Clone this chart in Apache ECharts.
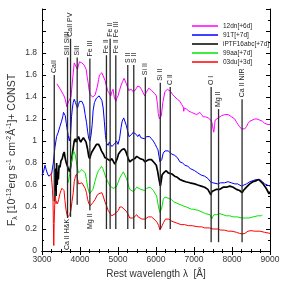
<!DOCTYPE html>
<html><head><meta charset="utf-8">
<script src="https://cdn.jsdelivr.net/npm/echarts@6/dist/echarts.min.js"></script>
<style>html,body{margin:0;padding:0;background:#fff}#c{width:299px;height:284px}</style>
</head><body><div id="c"></div>
<script>
const FONT = 'Liberation Sans, Arial, Helvetica, sans-serif';

const seriesNames = ['12dn[+6d]', '91T[+7d]', 'iPTF16abc[+7d]', '99aa[+7d]', '03du[+3d]'];
const seriesColors = ['#ff00ff', '#0000ff', '#000000', '#00e600', '#ff0000'];

const wave12dn = [3390,3430,3462,3500,3525,3567,3612,3656,3680,3699,3730,3761,3790,3814,3848,3875,3900,3934,3960,3987,4020,4050,4110,4163,4190,4215,4240,4268,4300,4339,4399,4430,4460,4490,4512,4545,4575,4600,4620,4660,4696,4720,4740,4775,4811,4840,4872,4900,4942,4970,5002,5040,5074,5120,5160,5186,5220,5250,5283,5320,5353,5390,5423,5450,5485,5520,5546,5580,5616,5660,5703,5740,5773,5810,5834,5880,5922,5970,6009,6040,6060,6090,6115,6140,6180,6236,6300,6330,6385,6440,6499,6560,6630,6680,6717,6730,6745,6805,6870,6937,7000,7068,7110,7155,7200,7241,7300,7373,7444,7470,7490,7520,7540,7557,7600,7635,7724,7811,7898,7950,7987,8073,8120,8160,8200,8250,8300,8336,8380,8423,8470,8512,8598,8660,8730,8800,8861,8910,8948,9000];
const flux12dn = [1.52,1.50,1.48,1.46,1.45,1.42,1.38,1.31,1.34,1.36,1.38,1.40,1.50,1.59,1.71,1.70,1.70,1.65,1.69,1.72,1.71,1.71,1.69,1.65,1.58,1.53,1.46,1.42,1.41,1.40,1.42,1.46,1.50,1.56,1.60,1.61,1.62,1.60,1.59,1.55,1.50,1.47,1.45,1.43,1.41,1.45,1.47,1.40,1.36,1.39,1.41,1.46,1.50,1.54,1.57,1.56,1.52,1.49,1.46,1.46,1.47,1.45,1.44,1.46,1.48,1.50,1.51,1.49,1.47,1.44,1.41,1.44,1.45,1.48,1.48,1.46,1.45,1.43,1.41,1.33,1.25,1.20,1.19,1.23,1.35,1.45,1.47,1.46,1.45,1.42,1.40,1.38,1.36,1.33,1.31,1.27,1.30,1.29,1.27,1.26,1.25,1.24,1.25,1.26,1.24,1.22,1.22,1.21,1.19,1.17,1.13,1.08,1.14,1.19,1.20,1.21,1.23,1.24,1.24,1.23,1.22,1.20,1.17,1.15,1.13,1.11,1.11,1.11,1.13,1.16,1.18,1.19,1.20,1.20,1.19,1.18,1.16,1.15,1.15,1.15];

const wave91T = [3000,3040,3079,3110,3147,3180,3210,3252,3297,3340,3384,3428,3470,3515,3545,3567,3590,3612,3640,3656,3690,3720,3750,3777,3800,3822,3848,3880,3910,3934,3960,3987,4020,4050,4080,4100,4136,4171,4200,4230,4260,4290,4320,4346,4380,4433,4470,4504,4540,4575,4610,4640,4670,4700,4740,4770,4800,4840,4880,4920,4960,5000,5040,5080,5110,5150,5186,5220,5260,5290,5320,5360,5400,5440,5480,5520,5560,5600,5650,5700,5750,5790,5834,5880,5930,5980,6020,6052,6080,6105,6123,6150,6190,6236,6270,6320,6360,6420,6490,6560,6630,6700,6760,6840,6900,7016,7100,7190,7280,7365,7430,7496,7548,7627,7700,7800,7898,7980,8073,8150,8250,8300,8380,8470,8555,8640,8730,8800,8861,8930,9000];
const flux91T = [0.69,0.72,0.78,0.74,0.70,0.68,0.67,0.70,0.80,0.94,1.04,1.08,1.13,1.18,1.22,1.26,1.25,1.23,1.16,1.12,1.05,1.00,1.05,1.22,1.30,1.35,1.38,1.35,1.32,1.30,1.33,1.36,1.37,1.36,1.35,1.32,1.24,1.17,1.09,1.02,1.00,1.05,1.15,1.28,1.35,1.39,1.40,1.41,1.40,1.37,1.30,1.18,1.05,0.98,0.96,0.99,0.97,0.95,0.94,0.98,1.00,0.97,1.02,1.12,1.18,1.21,1.20,1.14,1.08,1.04,1.03,1.06,1.08,1.09,1.06,1.04,1.06,1.03,1.04,1.02,1.04,1.05,1.04,1.02,1.00,0.97,0.94,0.92,0.86,0.81,0.80,0.83,0.89,0.91,0.92,0.91,0.90,0.88,0.87,0.85,0.81,0.80,0.78,0.77,0.75,0.73,0.71,0.69,0.68,0.66,0.63,0.62,0.61,0.61,0.62,0.62,0.63,0.62,0.61,0.61,0.59,0.59,0.61,0.63,0.64,0.65,0.65,0.63,0.61,0.60,0.59];

const wavePTF = [3340,3355,3370,3385,3400,3415,3430,3450,3472,3500,3533,3560,3585,3612,3640,3670,3700,3730,3760,3790,3814,3848,3874,3900,3930,3960,3990,4020,4050,4090,4127,4160,4197,4230,4255,4280,4312,4346,4400,4433,4486,4520,4565,4617,4653,4706,4740,4793,4830,4870,4916,4950,4980,5011,5050,5100,5134,5160,5200,5231,5270,5309,5340,5380,5440,5493,5530,5580,5620,5667,5710,5747,5800,5843,5880,5920,5960,6008,6040,6070,6097,6115,6135,6160,6200,6270,6320,6368,6420,6490,6560,6630,6700,6780,6892,7016,7100,7190,7280,7365,7410,7444,7470,7520,7580,7670,7767,7850,7942,8030,8117,8200,8265,8300,8380,8467,8550,8643,8700,8760,8820,8880,8930,8975,9000];
const fluxPTF = [0.55,0.75,0.50,0.80,0.60,0.72,0.65,0.78,0.76,0.82,0.84,0.88,0.90,0.84,0.80,0.77,0.74,0.72,0.78,0.86,0.92,1.00,1.02,0.99,1.02,1.04,1.01,0.99,1.01,1.03,1.04,0.99,0.93,0.86,0.84,0.87,0.90,0.91,0.95,0.97,0.97,0.95,0.91,0.88,0.85,0.84,0.83,0.82,0.84,0.82,0.79,0.80,0.84,0.88,0.90,0.92,0.92,0.93,0.91,0.88,0.84,0.81,0.81,0.83,0.84,0.86,0.85,0.84,0.83,0.83,0.81,0.81,0.83,0.84,0.83,0.82,0.80,0.78,0.73,0.67,0.62,0.59,0.63,0.69,0.71,0.73,0.71,0.70,0.70,0.68,0.67,0.65,0.64,0.63,0.62,0.61,0.60,0.59,0.58,0.56,0.55,0.51,0.54,0.55,0.56,0.56,0.58,0.58,0.59,0.58,0.56,0.55,0.53,0.55,0.58,0.61,0.63,0.64,0.65,0.63,0.61,0.58,0.55,0.52,0.54];

const wave99aa = [3690,3720,3743,3770,3800,3830,3848,3870,3900,3935,3961,4000,4050,4090,4136,4170,4197,4230,4255,4290,4339,4370,4400,4440,4486,4530,4565,4600,4640,4680,4720,4760,4793,4830,4870,4916,4950,5000,5055,5090,5142,5178,5210,5250,5280,5309,5344,5405,5450,5493,5540,5600,5650,5703,5750,5790,5843,5880,5930,5980,6018,6050,6080,6105,6125,6150,6192,6236,6270,6320,6400,6454,6577,6717,6800,6927,6980,7102,7241,7300,7417,7445,7465,7490,7530,7600,7672,7767,7850,7940,8029,8150,8250,8292,8350,8450,8555,8677,8773,8800];
const flux99aa = [0.62,0.68,0.72,0.80,0.85,0.91,0.92,0.88,0.82,0.75,0.71,0.72,0.74,0.73,0.71,0.65,0.59,0.54,0.52,0.53,0.56,0.60,0.64,0.69,0.73,0.75,0.77,0.75,0.71,0.67,0.64,0.61,0.59,0.59,0.57,0.56,0.58,0.62,0.67,0.68,0.72,0.71,0.67,0.63,0.59,0.56,0.55,0.54,0.56,0.58,0.57,0.56,0.55,0.55,0.57,0.58,0.58,0.57,0.55,0.52,0.50,0.43,0.38,0.35,0.34,0.39,0.47,0.49,0.50,0.48,0.47,0.45,0.43,0.41,0.40,0.38,0.38,0.37,0.35,0.34,0.33,0.31,0.29,0.31,0.33,0.33,0.34,0.33,0.32,0.32,0.31,0.31,0.30,0.29,0.30,0.30,0.31,0.32,0.32,0.33];

const wave03du = [3240,3260,3275,3290,3300,3310,3320,3335,3355,3370,3384,3410,3440,3472,3500,3525,3550,3580,3603,3630,3656,3680,3699,3730,3760,3790,3822,3848,3880,3910,3934,3961,4000,4050,4084,4136,4171,4200,4233,4268,4303,4340,4400,4440,4486,4530,4575,4610,4653,4688,4740,4790,4837,4880,4930,4970,5011,5046,5100,5150,5221,5273,5309,5344,5400,5440,5493,5530,5580,5630,5667,5710,5747,5800,5843,5880,5930,5980,6030,6070,6105,6125,6150,6200,6250,6280,6340,6420,6500,6577,6660,6753,6850,6950,7102,7200,7278,7400,7500,7627,7700,7800,7900,8000,8117,8200,8275,8340,8420,8500,8600,8730,8861,9000];
const flux03du = [0.71,0.62,0.56,0.45,0.25,0.05,0.25,0.42,0.50,0.43,0.45,0.43,0.47,0.52,0.55,0.57,0.58,0.55,0.46,0.38,0.33,0.31,0.32,0.33,0.37,0.45,0.53,0.63,0.68,0.70,0.66,0.61,0.61,0.62,0.60,0.57,0.53,0.47,0.43,0.41,0.42,0.44,0.47,0.50,0.52,0.53,0.53,0.50,0.45,0.42,0.37,0.34,0.32,0.32,0.34,0.35,0.37,0.40,0.40,0.39,0.36,0.33,0.30,0.29,0.30,0.30,0.33,0.31,0.30,0.29,0.28,0.29,0.29,0.31,0.32,0.31,0.30,0.28,0.26,0.23,0.19,0.18,0.20,0.26,0.29,0.30,0.29,0.27,0.26,0.25,0.24,0.24,0.23,0.23,0.22,0.22,0.21,0.21,0.20,0.20,0.19,0.19,0.18,0.18,0.17,0.16,0.155,0.16,0.18,0.185,0.18,0.18,0.17,0.16];

const waves = [wave12dn, wave91T, wavePTF, wave99aa, wave03du];
const fluxes = [flux12dn, flux91T, fluxPTF, flux99aa, flux03du];
const lineWidths = [1, 1, 1.7, 1, 1];

// line identifications
const lineWave   = [3323, 3672, 3751, 3926, 4260, 4696, 4793, 4942, 5257, 5415, 5719, 6113, 6375, 7451, 7646, 8265, 3658, 4260];
const lineTop    = [1.60, 1.76, 1.93, 1.76, 1.75, 1.78, 1.93, 1.78, 1.69, 1.69, 1.58, 1.53, 1.49, 1.49, 1.29, 1.38, 0.31, 0.36];
const lineBottom = [0.45, 0.30, 0.31, 0.42, 0.37, 0.20, 0.20, 0.20, 0.20, 0.20, 0.20, 0.20, 0.20, 0.08, 0.08, 0.08, 0.31, 0.36];
const lineLabel  = ['CaII', 'SiII SiIII', 'CaII PV', 'SiII', 'Fe III', 'Fe II', 'Fe II', 'Fe II Fe III', 'S II', 'S II', 'Si II', 'Si II', 'C II', 'O I', 'Mg II', 'Ca II NIR', 'Ca II H&K', 'Mg II'];
const lineLabelSide = ['top','top','top','top','top','top','top','top','top','top','top','top','top','top','top','top','bottom','bottom'];

const xMin = 3000, xMax = 9000, xStep = 1000;
const yMin = 0, yMax = 2.2, yStep = 0.2;

const chart = echarts.init(document.getElementById('c'), null, {renderer: 'canvas'});

const spectra = seriesNames.map((name, k) => ({
  name: name,
  type: 'line',
  data: waves[k].map((w, i) => [w, fluxes[k][i]]),
  showSymbol: false,
  symbol: 'none',
  animation: false,
  lineStyle: {color: seriesColors[k], width: lineWidths[k]},
  itemStyle: {color: seriesColors[k]},
  z: 2 + k
}));

const idLines = {
  type: 'custom',
  animation: false,
  silent: true,
  z: 20,
  data: lineWave.map((w, i) => [w, lineTop[i], lineBottom[i]]),
  encode: {x: 0, y: [1, 2]},
  renderItem: function (params, api) {
    const i = params.dataIndex;
    const w = api.value(0), t = api.value(1), b = api.value(2);
    const p1 = api.coord([w, t]);
    const p2 = api.coord([w, b]);
    const side = lineLabelSide[i];
    const children = [];
    if (Math.abs(p2[1] - p1[1]) > 0.5) {
      children.push({type: 'line', shape: {x1: p1[0], y1: p1[1], x2: p2[0], y2: p2[1]},
        style: {stroke: '#2a2a2a', lineWidth: 1.3}});
    }
    const ax = side === 'top' ? p1[0] : p2[0];
    const ay = side === 'top' ? p1[1] - 2 : p2[1] + 2;
    children.push({type: 'text', x: ax, y: ay, rotation: Math.PI / 2,
      style: {text: lineLabel[i], fontSize: 7, fontFamily: FONT, fill: '#222',
        align: side === 'top' ? 'left' : 'right', textAlign: side === 'top' ? 'left' : 'right',
        verticalAlign: 'middle', textVerticalAlign: 'middle'}});
    return {type: 'group', children: children};
  }
};

const axisCommon = {
  axisLine: {show: true, lineStyle: {color: '#000', width: 1}},
  axisTick: {show: true, inside: true, length: 4, lineStyle: {color: '#000'}},
  minorTick: {show: true, length: 2, lineStyle: {color: '#000'}},
  splitLine: {show: false},
};

const option = {
  backgroundColor: '#fff',
  animation: false,
  grid: {left: 42, right: 29, top: 9, bottom: 32, show: false},
  legend: {
    data: seriesNames.map((n, k) => ({name: n, icon: 'rect', itemStyle: {color: seriesColors[k]}})),
    orient: 'vertical',
    left: 187, top: 17,
    itemWidth: 26, itemHeight: 1.5, itemGap: 1,
    textStyle: {fontSize: 6.5, fontFamily: FONT, color: '#222', lineHeight: 8},
    selectedMode: false
  },
  xAxis: [
    Object.assign({}, axisCommon, {
      type: 'value', min: xMin, max: xMax, interval: xStep,
      minorTick: Object.assign({}, axisCommon.minorTick, {splitNumber: 4}),
      axisLabel: {fontSize: 8.5, fontFamily: FONT, color: '#333', margin: 4,
        formatter: v => String(Math.round(v))},
      name: 'Rest wavelength \u03bb  [\u00c5]', nameLocation: 'middle', nameGap: 18,
      nameTextStyle: {fontSize: 10, fontFamily: FONT, color: '#333'}
    }),
    Object.assign({}, axisCommon, {
      type: 'value', min: xMin, max: xMax, interval: xStep, position: 'top',
      minorTick: Object.assign({}, axisCommon.minorTick, {splitNumber: 4}),
      axisLabel: {show: false}
    })
  ],
  yAxis: [
    Object.assign({}, axisCommon, {
      type: 'value', min: yMin, max: yMax, interval: yStep,
      minorTick: Object.assign({}, axisCommon.minorTick, {splitNumber: 2}),
      axisLabel: {fontSize: 8.5, fontFamily: FONT, color: '#333', margin: 5,
        formatter: v => (v > 1.85 ? '' : String(+v.toFixed(1)))}
    }),
    Object.assign({}, axisCommon, {
      type: 'value', min: yMin, max: yMax, interval: yStep, position: 'right',
      minorTick: Object.assign({}, axisCommon.minorTick, {splitNumber: 2}),
      axisLabel: {show: false}
    })
  ],
  graphic: [{
    type: 'text',
    x: 12, y: 150,
    rotation: Math.PI / 2,
    style: {
      text: '{m|F}{s|\u03bb}{m| [10}{u|-13}{m|erg s}{u|-1}{m| cm}{u|-2}{m|\u00c5}{u|-1}{m|]+ CONST}',
      align: 'center', textAlign: 'center', verticalAlign: 'middle', textVerticalAlign: 'middle',
      fill: '#333',
      rich: {
        m: {fontSize: 10.5, fontFamily: FONT, color: '#333', lineHeight: 13},
        u: {fontSize: 7, fontFamily: FONT, color: '#333', verticalAlign: 'top', lineHeight: 13},
        s: {fontSize: 7, fontFamily: FONT, color: '#333', verticalAlign: 'bottom', lineHeight: 13}
      }
    }
  }],
  series: spectra.concat([idLines])
};

chart.setOption(option);
</script>
</body></html>
